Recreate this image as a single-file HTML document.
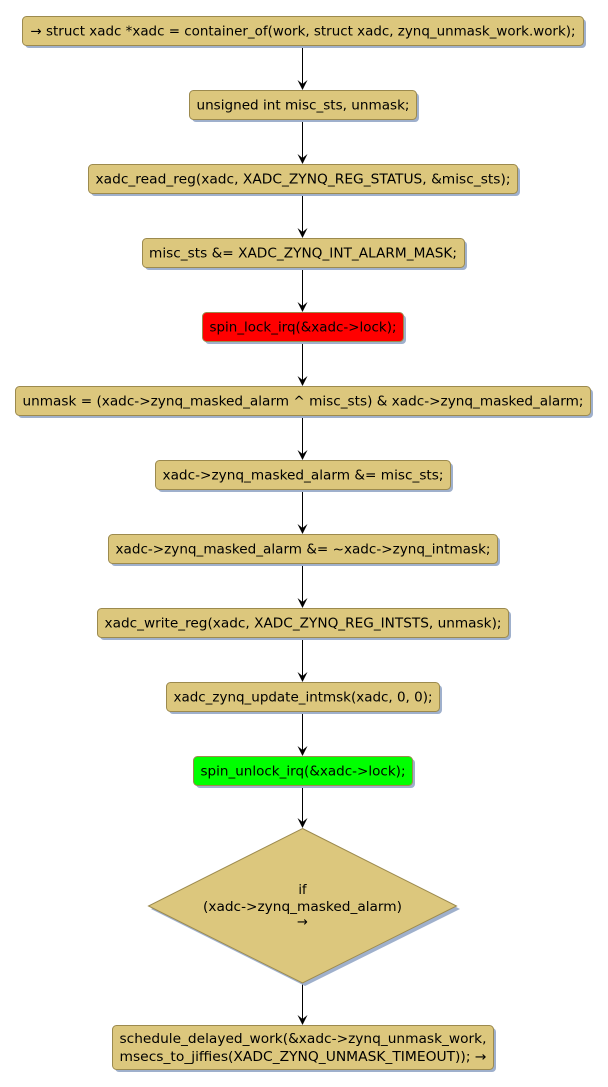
<!DOCTYPE html>
<html><head><meta charset="utf-8"><style>
html,body{margin:0;padding:0;background:#fff;}
svg{display:block;}
text{font-family:"DejaVu Sans","Liberation Sans",sans-serif;font-size:13px;fill:#000;}
</style></head><body>
<svg width="608" height="1087" viewBox="0 0 608 1087" xmlns="http://www.w3.org/2000/svg">
<g stroke="#000" stroke-width="1">
<line x1="302.5" y1="45" x2="302.5" y2="86"/>
<line x1="302.5" y1="119" x2="302.5" y2="160"/>
<line x1="302.5" y1="193" x2="302.5" y2="234"/>
<line x1="302.5" y1="267" x2="302.5" y2="308"/>
<line x1="302.5" y1="341" x2="302.5" y2="382"/>
<line x1="302.5" y1="415" x2="302.5" y2="456"/>
<line x1="302.5" y1="489" x2="302.5" y2="530"/>
<line x1="302.5" y1="563" x2="302.5" y2="604"/>
<line x1="302.5" y1="637" x2="302.5" y2="678"/>
<line x1="302.5" y1="711" x2="302.5" y2="752"/>
<line x1="302.5" y1="785" x2="302.5" y2="824"/>
<line x1="302.5" y1="983" x2="302.5" y2="1021"/>
</g>
<g fill="#000">
<polygon points="297.5,80 302.5,90 307.5,80 302.5,84"/>
<polygon points="297.5,154 302.5,164 307.5,154 302.5,158"/>
<polygon points="297.5,228 302.5,238 307.5,228 302.5,232"/>
<polygon points="297.5,302 302.5,312 307.5,302 302.5,306"/>
<polygon points="297.5,376 302.5,386 307.5,376 302.5,380"/>
<polygon points="297.5,450 302.5,460 307.5,450 302.5,454"/>
<polygon points="297.5,524 302.5,534 307.5,524 302.5,528"/>
<polygon points="297.5,598 302.5,608 307.5,598 302.5,602"/>
<polygon points="297.5,672 302.5,682 307.5,672 302.5,676"/>
<polygon points="297.5,746 302.5,756 307.5,746 302.5,750"/>
<polygon points="297.5,818 302.5,828 307.5,818 302.5,822"/>
<polygon points="297.5,1015 302.5,1025 307.5,1015 302.5,1019"/>
</g>
<g fill="#9fb0cc">
<rect x="25" y="19" width="561" height="29" rx="4"/>
<rect x="192" y="93" width="227" height="29" rx="4"/>
<rect x="91" y="167" width="429" height="29" rx="4"/>
<rect x="145" y="241" width="322" height="29" rx="4"/>
<rect x="205" y="315" width="201" height="29" rx="4"/>
<rect x="18" y="389" width="575" height="29" rx="4"/>
<rect x="158" y="463" width="295" height="29" rx="4"/>
<rect x="111" y="537" width="389" height="29" rx="4"/>
<rect x="100" y="611" width="411" height="29" rx="4"/>
<rect x="169" y="685" width="273" height="29" rx="4"/>
<rect x="196" y="759" width="219" height="29" rx="4"/>
<polygon points="305,831 460,909 305,986 151,909"/>
<rect x="115" y="1028" width="381" height="44" rx="4"/>
</g>
<g stroke="#9c8a4e" stroke-width="1" fill="#dcc77d">
<rect x="22.5" y="16.5" width="561" height="29" rx="4"/>
<rect x="189.5" y="90.5" width="227" height="29" rx="4"/>
<rect x="88.5" y="164.5" width="429" height="29" rx="4"/>
<rect x="142.5" y="238.5" width="322" height="29" rx="4"/>
<rect x="202.5" y="312.5" width="201" height="29" rx="4" fill="#ff0000"/>
<rect x="15.5" y="386.5" width="575" height="29" rx="4"/>
<rect x="155.5" y="460.5" width="295" height="29" rx="4"/>
<rect x="108.5" y="534.5" width="389" height="29" rx="4"/>
<rect x="97.5" y="608.5" width="411" height="29" rx="4"/>
<rect x="166.5" y="682.5" width="273" height="29" rx="4"/>
<rect x="193.5" y="756.5" width="219" height="29" rx="4" fill="#00ff00"/>
<polygon points="302.5,828.5 456.5,906 302.5,983 148.5,906"/>
<rect x="112.5" y="1025.5" width="381" height="44" rx="4"/>
</g>
<g text-anchor="middle">
<text x="303" y="35.5" textLength="545" lengthAdjust="spacingAndGlyphs">→ struct xadc *xadc = container_of(work, struct xadc, zynq_unmask_work.work);</text>
<text x="303" y="109.5" textLength="213" lengthAdjust="spacingAndGlyphs">unsigned int misc_sts, unmask;</text>
<text x="303" y="183.5" textLength="415" lengthAdjust="spacingAndGlyphs">xadc_read_reg(xadc, XADC_ZYNQ_REG_STATUS, &amp;misc_sts);</text>
<text x="303" y="257.5" textLength="308" lengthAdjust="spacingAndGlyphs">misc_sts &amp;= XADC_ZYNQ_INT_ALARM_MASK;</text>
<text x="303" y="331.5" textLength="187" lengthAdjust="spacingAndGlyphs">spin_lock_irq(&amp;xadc-&gt;lock);</text>
<text x="303" y="405.5" textLength="561" lengthAdjust="spacingAndGlyphs">unmask = (xadc-&gt;zynq_masked_alarm ^ misc_sts) &amp; xadc-&gt;zynq_masked_alarm;</text>
<text x="303" y="479.5" textLength="281" lengthAdjust="spacingAndGlyphs">xadc-&gt;zynq_masked_alarm &amp;= misc_sts;</text>
<text x="303" y="553.5" textLength="375" lengthAdjust="spacingAndGlyphs">xadc-&gt;zynq_masked_alarm &amp;= ~xadc-&gt;zynq_intmask;</text>
<text x="303" y="627.5" textLength="397" lengthAdjust="spacingAndGlyphs">xadc_write_reg(xadc, XADC_ZYNQ_REG_INTSTS, unmask);</text>
<text x="303" y="701.5" textLength="259" lengthAdjust="spacingAndGlyphs">xadc_zynq_update_intmsk(xadc, 0, 0);</text>
<text x="303" y="775.5" textLength="205" lengthAdjust="spacingAndGlyphs">spin_unlock_irq(&amp;xadc-&gt;lock);</text>
<text x="302.5" y="894">if</text>
<text x="302.5" y="911" textLength="199" lengthAdjust="spacingAndGlyphs">(xadc-&gt;zynq_masked_alarm)</text>
<text x="302.5" y="926">→</text>
<text x="303" y="1043" textLength="367" lengthAdjust="spacingAndGlyphs">schedule_delayed_work(&amp;xadc-&gt;zynq_unmask_work,</text>
<text x="303" y="1061" textLength="367" lengthAdjust="spacingAndGlyphs">msecs_to_jiffies(XADC_ZYNQ_UNMASK_TIMEOUT)); →</text>
</g>
</svg>
</body></html>
